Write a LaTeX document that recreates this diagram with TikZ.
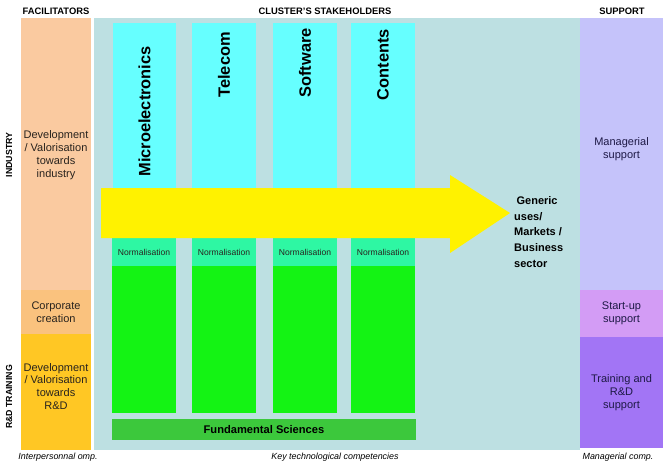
\documentclass[tikz,border=0pt]{standalone}
\usepackage{fontspec}
\setmainfont{Liberation Sans}
\usetikzlibrary{positioning, fit}
\definecolor{facPeach}{RGB}{250, 202, 160}
\definecolor{facCorp}{RGB}{250, 194, 126}
\definecolor{facGold}{RGB}{255, 199, 36}
\definecolor{clusterBg}{RGB}{189, 224, 226}
\definecolor{stakeCyan}{RGB}{102, 255, 255}
\definecolor{normMint}{RGB}{46, 247, 163}
\definecolor{baseGreen}{RGB}{20, 243, 20}
\definecolor{fundGreen}{RGB}{60, 200, 60}
\definecolor{supLight}{RGB}{197, 195, 250}
\definecolor{supStart}{RGB}{211, 156, 245}
\definecolor{supTrain}{RGB}{162, 117, 245}
\definecolor{textDark}{RGB}{40, 35, 30}
\definecolor{textNavy}{RGB}{30, 25, 70}

\begin{document}
\begin{tikzpicture}[
    x=0.03cm, y=-0.03cm,
    band/.style={
        rectangle,
        inner sep=0pt
    },
    bandtext/.style={
        inner sep=0pt,
        align=center,
        text=textDark,
        font=\fontsize{9.4}{11}\selectfont
    },
    suptext/.style={
        bandtext,
        text=textNavy
    },
    column/.style={
        rectangle,
        inner sep=0pt,
        fill=stakeCyan
    },
    colname/.style={
        rotate=90,
        anchor=east,
        inner sep=0pt,
        font=\fontsize{14}{16}\selectfont\bfseries
    },
    normbox/.style={
        rectangle,
        inner sep=0pt,
        fill=normMint
    },
    normtext/.style={
        inner sep=0pt,
        text=textDark,
        font=\fontsize{7.3}{8}\selectfont
    },
    greenbar/.style={
        rectangle,
        inner sep=0pt,
        fill=baseGreen
    },
    header/.style={
        font=\fontsize{8}{9}\selectfont\bfseries,
        inner sep=0pt
    },
    sidelabel/.style={
        rotate=90,
        font=\fontsize{7.5}{9}\selectfont\bfseries,
        inner sep=0pt
    },
    footer/.style={
        font=\fontsize{7.6}{9}\selectfont\itshape,
        inner sep=0pt
    }
]
\useasboundingbox (0,0) rectangle (667,462);

% ================= HEADERS =================
\node[header] (hfac) at (56,11) {FACILITATORS};
\node[header] (hclu) at (325,11) {CLUSTER'S STAKEHOLDERS};
\node[header] (hsup) at (622,11) {SUPPORT};

\node[sidelabel] (lind) at (9,155) {INDUSTRY};
\node[sidelabel] (lrd) at (9,397) {R\&D TRAINING};

% ================= FACILITATORS =================
\node[band, fill=facPeach, fit={(21,18) (91,290)}] (fac1) {};
\node[band, fill=facCorp, fit={(21,290) (91,334)}] (fac2) {};
\node[band, fill=facGold, fit={(21,334) (91,450)}] (fac3) {};
\node[bandtext] at ([yshift=-1.2pt]fac1.center) (fac1t) {Development\\/ Valorisation\\towards\\industry};
\node[bandtext] at (fac2.center) (fac2t) {Corporate\\creation};
\node[bandtext] at ([yshift=4.7pt]fac3.center) (fac3t) {Development\\/ Valorisation\\towards\\R\&D};

% ================= CLUSTER =================
\node[rectangle, inner sep=0pt, fill=clusterBg, fit={(94,18) (580,450)}] (cluster) {};

\node[column, fit={(113,23) (176,188)}] (c1) {};
\node[column, fit={(192,23) (256,188)}] (c2) {};
\node[column, fit={(273,23) (337,188)}] (c3) {};
\node[column, fit={(351,23) (415,188)}] (c4) {};

\node[colname] at (c1.north |- 0,46) (t1) {Microelectronics};
\node[colname] at (c2.north |- 0,32) (t2) {Telecom};
\node[colname] at (c3.north |- 0,28) (t3) {Software};
\node[colname] at (c4.north |- 0,29) (t4) {Contents};

\node[normbox, fit={(112,238) (176,266)}] (n1) {};
\node[normbox, fit={(192,238) (256,266)}] (n2) {};
\node[normbox, fit={(273,238) (337,266)}] (n3) {};
\node[normbox, fit={(351,238) (415,266)}] (n4) {};
\node[normtext] at ([yshift=-0.6pt]n1.center) (n1t) {Normalisation};
\node[normtext] at ([yshift=-0.6pt]n2.center) (n2t) {Normalisation};
\node[normtext] at ([yshift=-0.6pt]n3.center) (n3t) {Normalisation};
\node[normtext] at ([yshift=-0.6pt]n4.center) (n4t) {Normalisation};

\node[greenbar, fit={(112,266) (176,413)}] (g1) {};
\node[greenbar, fit={(192,266) (256,413)}] (g2) {};
\node[greenbar, fit={(273,266) (337,413)}] (g3) {};
\node[greenbar, fit={(351,266) (415,413)}] (g4) {};

\node[rectangle, inner sep=0pt, fill=fundGreen, fit={(112,419) (416,440)}] (fund) {};
\node[inner sep=0pt, font=\fontsize{9.5}{11}\selectfont\bfseries]
      at (fund.center) (fundt) {Fundamental Sciences};

% big arrow towards the markets
\fill[yellow] (101,188) -- (450,188) -- (450,175) -- (510,213)
    -- (450,253) -- (450,238) -- (101,238) -- cycle;

\node[anchor=west, align=left, inner sep=0pt,
      font=\fontsize{9.4}{13.6}\selectfont\bfseries] (market) at (514,232)
      {\hspace{2pt}Generic\\uses/\\Markets /\\Business\\sector};

% ================= SUPPORT =================
\node[band, fill=supLight, fit={(580,18) (663,290)}] (s1) {};
\node[band, fill=supStart, fit={(580,290) (663,337)}] (s2) {};
\node[band, fill=supTrain, fit={(580,337) (663,448)}] (s3) {};
\node[suptext] at ([yshift=4.3pt]s1.center) (s1t) {Managerial\\support};
\node[suptext] at (s2.center) (s2t) {Start-up\\support};
\node[suptext] at (s3.center) (s3t) {Training and\\R\&D\\support};

% ================= FOOTERS =================
\node[footer] (ffac) at (58,457) {Interpersonnal omp.};
\node[footer] (fclu) at (335,457) {Key technological competencies};
\node[footer] (fsup) at (618,457) {Managerial comp.};

\end{tikzpicture}
\end{document}
